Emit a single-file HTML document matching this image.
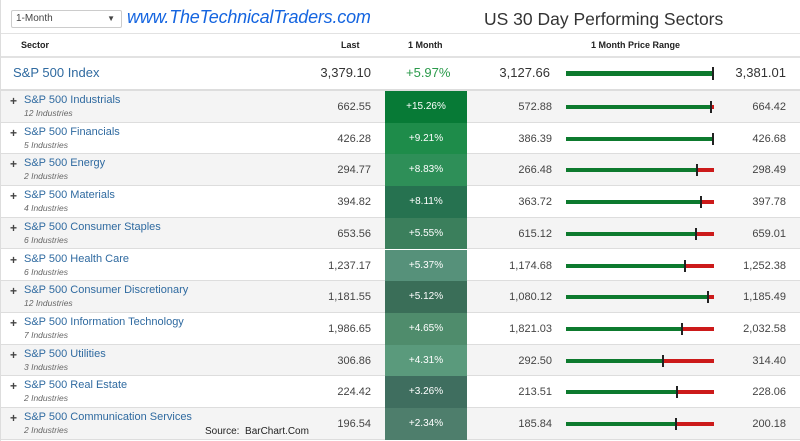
<!DOCTYPE html>
<html><head><meta charset="utf-8"><style>
body{margin:0;width:800px;height:441px;overflow:hidden;background:#fff;font-family:"Liberation Sans",sans-serif;}
#wrap{position:relative;width:800px;height:441px;border-left:1px solid #ddd;box-sizing:border-box}
.abs{position:absolute}
.sel{left:10px;top:10px;width:105px;height:16px;border:1px solid #ccc;border-radius:2px;font-size:10px;color:#444;line-height:16px;padding-left:4px;box-sizing:content-box}
.site{left:126px;top:7px;font-size:18px;font-style:italic;color:#1565e0;font-weight:normal;letter-spacing:-0.2px}
.title{left:483px;top:9px;font-size:17.5px;color:#333}
.hdr{top:33px;height:22px;width:800px;border-top:1px solid #e2e2e2;border-bottom:2px solid #e2e2e2;font-size:9px;font-weight:bold;color:#222}
.row{left:0;width:800px;border-bottom:1px solid #ddd;box-sizing:border-box}
.nm{font-size:11px;color:#2f6aa0}
.sub{font-size:8.5px;font-style:italic;color:#666}
.num{font-size:11px;color:#444;text-align:right}
.pct{color:#fff;font-size:10px;text-align:center}
</style></head><body>
<div id="wrap">
<div class="abs sel">1-Month<span style="position:absolute;right:6px;top:0;font-size:8px">▼</span></div>
<div class="abs site">www.TheTechnicalTraders.com</div>
<div class="abs title">US 30 Day Performing Sectors</div>
<div class="abs hdr">
<span class="abs" style="left:20px;top:6px">Sector</span>
<span class="abs" style="left:340px;top:6px">Last</span>
<span class="abs" style="left:407px;top:6px">1 Month</span>
<span class="abs" style="left:590px;top:6px">1 Month Price Range</span>
</div>
<div id="rows"></div>
<div class="abs" style="left:204px;top:426px;font-size:10px;color:#222">Source:&nbsp; BarChart.Com</div>
</div>
<script>
const names=["S&P 500 Industrials","S&P 500 Financials","S&P 500 Energy","S&P 500 Materials","S&P 500 Consumer Staples","S&P 500 Health Care","S&P 500 Consumer Discretionary","S&P 500 Information Technology","S&P 500 Utilities","S&P 500 Real Estate","S&P 500 Communication Services"];
const industries=[12,5,2,4,6,6,12,7,3,2,2];
const lastVals=[662.55,426.28,294.77,394.82,653.56,1237.17,1181.55,1986.65,306.86,224.42,196.54];
const pctVals=[15.26,9.21,8.83,8.11,5.55,5.37,5.12,4.65,4.31,3.26,2.34];
const lowVals=[572.88,386.39,266.48,363.72,615.12,1174.68,1080.12,1821.03,292.50,213.51,185.84];
const highVals=[664.42,426.68,298.49,397.78,659.01,1252.38,1185.49,2032.58,314.40,228.06,200.18];
const cellColors=["#077a36","#1e8c4a","#2e8f58","#267250","#3b7f5c","#56917a","#3a6e58","#4f8c6c","#5a9a7c","#3f6e5f","#4e7e6c"];
const idx={last:3379.10,pct:5.97,low:3127.66,high:3381.01};
const fmt=v=>v.toLocaleString('en-US',{minimumFractionDigits:2,maximumFractionDigits:2});
const BX=565,BW=148;
const bx=(v,lo,hi)=>BX+(v-lo)/(hi-lo)*BW;
const R=document.getElementById('rows');
function bar(parent,y,last,lo,hi,thick){
  const m=bx(last,lo,hi);
  const g=document.createElement('div');g.className='abs';
  g.style.cssText=`left:${BX}px;top:${y}px;width:${m-BX}px;height:${thick}px;background:#0d7a2e`;
  
  
  parent.appendChild(g);
  const r=document.createElement('div');r.className='abs';
  r.style.cssText=`left:${m}px;top:${y}px;width:${BX+BW-m}px;height:${thick}px;background:#cc1a1a`;
  
  
  parent.appendChild(r);
  const k=document.createElement('div');k.className='abs';
  k.style.cssText=`left:${m-1}px;top:${y-4}px;width:2px;height:${thick+8}px;background:#222`;
  
  
  parent.appendChild(k);
}
(function(){
  const d=document.createElement('div');d.className='abs row';
  d.style.cssText+='top:57px;height:34px;border-bottom:2px solid #ddd';
  
  
  d.innerHTML=`<span class="abs nm" style="left:12px;top:8px;font-size:13px">S&amp;P 500 Index</span>
  <span class="abs num" style="right:430px;top:8px;font-size:13px;color:#333">${fmt(idx.last)}</span>
  <span class="abs" style="left:405px;top:8px;font-size:13px;color:#2a9a4a">+${idx.pct.toFixed(2)}%</span>
  <span class="abs num" style="right:251px;top:8px;font-size:13px;color:#333">${fmt(idx.low)}</span>
  <span class="abs num" style="right:15px;top:8px;font-size:13px;color:#333">${fmt(idx.high)}</span>`;
  R.appendChild(d);
  bar(d,14,idx.last,idx.low,idx.high,5);
})();
const RH=31.7;
names.forEach((n,i)=>{
  const top=91+i*RH;
  const d=document.createElement('div');d.className='abs row';
  d.style.top=top+'px';d.style.height=RH+'px';
  d.style.background=i%2==0?'#f4f4f4':'#fff';
  
  
  d.innerHTML=`<span class="abs" style="left:9px;top:3px;font-size:12px;font-weight:bold;color:#444">+</span>
  <span class="abs nm" style="left:23px;top:3px">${n.replace('&','&amp;')}</span>
  <span class="abs sub" style="left:23px;top:17px">${industries[i]} Industries</span>
  <span class="abs num" style="right:430px;top:10px">${fmt(lastVals[i])}</span>
  <div class="abs pct" style="left:384px;top:0;width:82px;height:${RH}px;line-height:${RH}px;background:${cellColors[i]}">+${pctVals[i].toFixed(2)}%</div>
  <span class="abs num" style="right:249px;top:10px">${fmt(lowVals[i])}</span>
  <span class="abs num" style="right:15px;top:10px">${fmt(highVals[i])}</span>`;
  R.appendChild(d);
  bar(d,14,lastVals[i],lowVals[i],highVals[i],4);
});
</script>
</body></html>
